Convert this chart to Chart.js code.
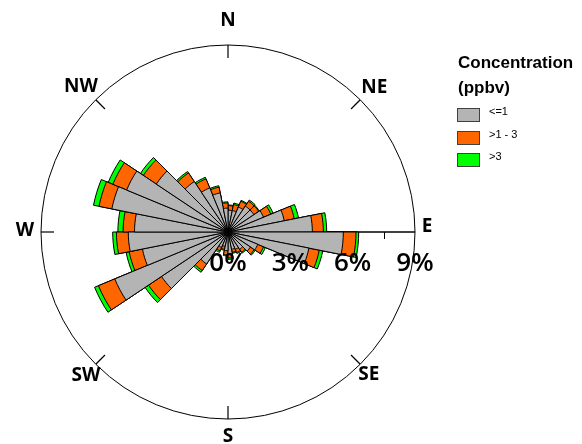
<!DOCTYPE html>
<html>
<head>
<meta charset="utf-8">
<script src="https://cdn.jsdelivr.net/npm/chart.js@4.4.1/dist/chart.umd.min.js"></script>
<style>
html,body{margin:0;padding:0;background:#ffffff;}
#wrap{position:relative;width:582px;height:444px;overflow:hidden;}
#c{position:absolute;left:0;top:0;}
.lg-title{position:absolute;left:458px;font-family:"Liberation Sans",Arial,sans-serif;font-weight:bold;font-size:17px;line-height:25px;color:#000;white-space:nowrap;}
.lg-box{position:absolute;left:457px;width:23px;height:14px;box-sizing:border-box;border:1px solid #404040;}
.lg-text{position:absolute;left:489px;font-family:"Liberation Sans",Arial,sans-serif;font-size:11px;line-height:11px;color:#000;white-space:nowrap;}
</style>
</head>
<body>
<div id="wrap">
  <canvas id="c" width="582" height="444"></canvas>
</div>
<script>
// 32 direction sectors (start angle of each 11.25° sector, clockwise from North)
const directions = ['0°','11.25°','22.5°','33.75°','45°','56.25°','67.5°','78.75°',
  '90°','101.25°','112.5°','123.75°','135°','146.25°','157.5°','168.75°',
  '180°','191.25°','202.5°','213.75°','225°','236.25°','247.5°','258.75°',
  '270°','281.25°','292.5°','303.75°','315°','326.25°','337.5°','348.75°'];

// Frequency (%) per concentration class
const lowConc  = [1.05,1.05,1.30,1.50,1.50,1.85,2.76,4.06, 5.55,3.97,1.55,1.30,1.00,0.90,0.85,1.05,
                  0.90,0.70,0.80,1.85,3.85,5.90,4.20,4.80, 4.50,5.70,5.28,4.15,2.92,2.30,1.92,1.15];
const midConc  = [0.22,0.30,0.30,0.28,0.28,0.38,0.49,0.53, 0.61,0.51,0.30,0.22,0.17,0.17,0.15,0.20,
                  0.20,0.15,0.18,0.38,0.75,0.85,0.65,0.57, 0.55,0.63,0.72,0.75,0.50,0.47,0.28,0.25];
const highConc = [0.03,0.07,0.05,0.07,0.04,0.12,0.21,0.16, 0.13,0.17,0.10,0.06,0.05,0.05,0.05,0.07,
                  0.05,0.05,0.08,0.10,0.20,0.20,0.15,0.18, 0.25,0.27,0.24,0.17,0.08,0.08,0.07,0.05];

const seriesNames = ['<=1', '>1 - 3', '>3'];
const seriesColors = ['#b4b4b4', '#ff6600', '#00ff00'];
const legendTitle = ['Concentration', '(ppbv)'];
const radialTickLabels = [0, 3, 6, 9];
const compassLabels = ['N','NE','E','SE','S','SW','W','NW'];

// cumulative stacks for drawing (largest drawn behind)
const stack1 = lowConc.slice();
const stack2 = lowConc.map((v, i) => v + midConc[i]);
const stack3 = stack2.map((v, i) => v + highConc[i]);

// legend (HTML)
(function buildLegend(){
  const wrap = document.getElementById('wrap');
  legendTitle.forEach((t, i) => {
    const d = document.createElement('div');
    d.className = 'lg-title';
    d.style.top = (50 + i * 25) + 'px';
    d.textContent = t;
    wrap.appendChild(d);
  });
  const tops = [108, 130.5, 153];
  seriesNames.forEach((name, i) => {
    const b = document.createElement('div');
    b.className = 'lg-box';
    b.style.top = tops[i] + 'px';
    b.style.background = seriesColors[i];
    wrap.appendChild(b);
    const t = document.createElement('div');
    t.className = 'lg-text';
    t.style.top = (tops[i] - 2) + 'px';
    t.textContent = name;
    wrap.appendChild(t);
  });
})();

const compassOffsets = [26, 20, 12, 12, 16, 14, 16, 21];
const compassYShift = [0, 0, -7, 0, 0, 0, -3, 0];

const windRosePlugin = {
  id: 'windRoseDecor',
  beforeDatasetsDraw(chart) {
    const s = chart.scales.r;
    const ctx = chart.ctx;
    const cx = s.xCenter, cy = s.yCenter, R = s.drawingArea;
    ctx.save();
    ctx.strokeStyle = '#000';
    // radial axis toward East
    ctx.lineWidth = 1.5;
    ctx.beginPath();
    ctx.moveTo(cx, cy);
    ctx.lineTo(cx + s.getDistanceFromCenterForValue(s.max), cy);
    ctx.stroke();
    ctx.lineWidth = 1;
    s.ticks.forEach(t => {
      if (t.value > s.min && t.value < s.max) {
        const x = Math.round(cx + s.getDistanceFromCenterForValue(t.value)) + 0.5;
        ctx.beginPath();
        ctx.moveTo(x, cy);
        ctx.lineTo(x, cy + 7);
        ctx.stroke();
      }
    });
    // compass ticks
    ctx.lineWidth = 1.2;
    for (let i = 0; i < 8; i++) {
      if (i === 2) continue;
      const a = i * Math.PI / 4;
      const sx = Math.sin(a), cy2 = -Math.cos(a);
      ctx.beginPath();
      ctx.moveTo(cx + sx * R, cy + cy2 * R);
      ctx.lineTo(cx + sx * (R - 13), cy + cy2 * (R - 13));
      ctx.stroke();
    }
    ctx.restore();
  },
  afterDatasetsDraw(chart) {
    const s = chart.scales.r;
    const ctx = chart.ctx;
    const cx = s.xCenter, cy = s.yCenter, R = s.drawingArea;
    ctx.save();
    ctx.fillStyle = '#000';
    // radial tick labels
    ctx.font = '600 26px "Open Sans", "DejaVu Sans", sans-serif';
    ctx.textAlign = 'center';
    ctx.textBaseline = 'alphabetic';
    radialTickLabels.forEach(v => {
      ctx.fillText(v + '%', cx + s.getDistanceFromCenterForValue(v), cy + 39);
    });
    // compass labels
    ctx.font = 'bold 19px "Open Sans", "Liberation Sans", sans-serif';
    compassLabels.forEach((lab, i) => {
      const a = i * Math.PI / 4;
      const r = R + compassOffsets[i];
      const x = cx + Math.sin(a) * r;
      const y = cy - Math.cos(a) * r + compassYShift[i];
      const m = ctx.measureText(lab);
      ctx.fillText(lab, x, y + m.actualBoundingBoxAscent / 2);
    });
    ctx.restore();
  }
};

new Chart(document.getElementById('c'), {
  type: 'polarArea',
  data: {
    labels: directions,
    datasets: [
      { label: seriesNames[0], data: stack1, backgroundColor: seriesColors[0], borderColor: '#000', borderWidth: 1 },
      { label: seriesNames[1], data: stack2, backgroundColor: seriesColors[1], borderColor: '#000', borderWidth: 1 },
      { label: seriesNames[2], data: stack3, backgroundColor: seriesColors[2], borderColor: '#000', borderWidth: 1 }
    ]
  },
  options: {
    responsive: false,
    animation: false,
    layout: { padding: { left: 41, top: 45, right: 167, bottom: 25 } },
    plugins: { legend: { display: false }, tooltip: { enabled: false } },
    scales: {
      r: {
        min: 0,
        max: 9,
        startAngle: 0,
        ticks: { display: false, stepSize: 1.5 },
        grid: {
          circular: true,
          color: (c) => (c.tick && c.tick.value === 9) ? '#000' : 'rgba(0,0,0,0)',
          lineWidth: 1
        },
        angleLines: { display: false },
        pointLabels: { display: false }
      }
    }
  },
  plugins: [windRosePlugin]
});
</script>
</body>
</html>
